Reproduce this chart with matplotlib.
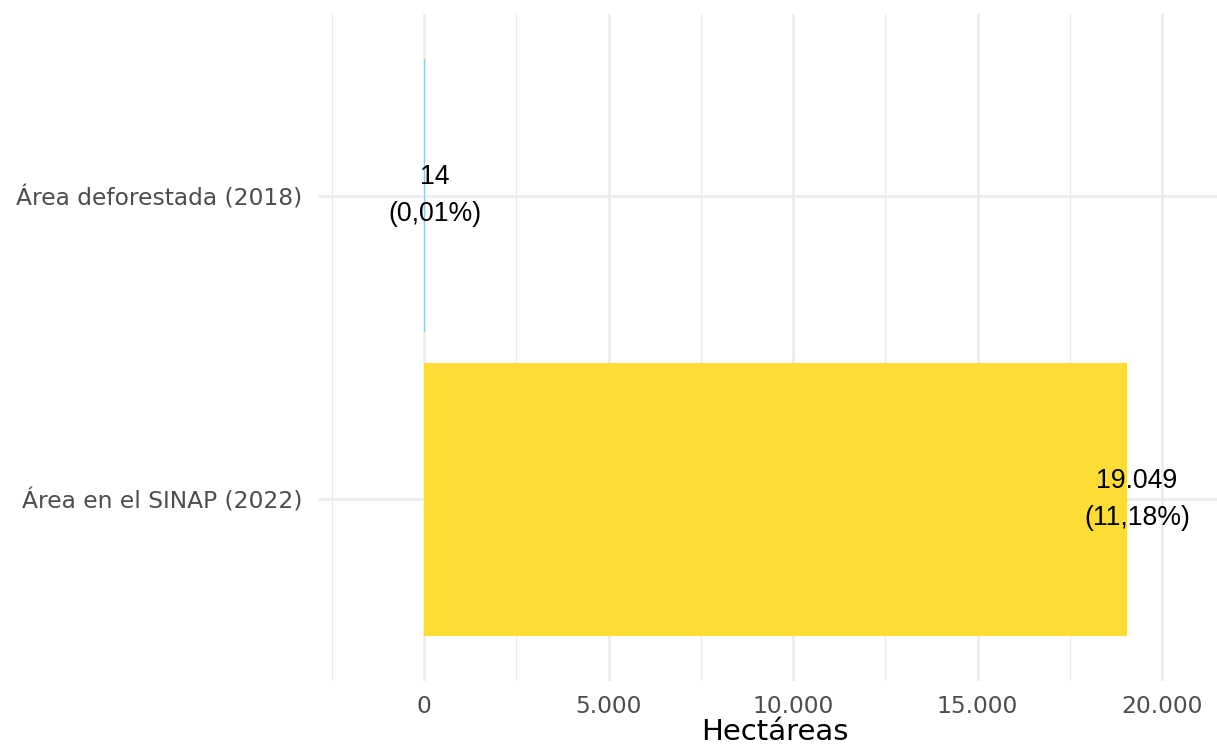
import matplotlib.pyplot as plt
from matplotlib.ticker import FixedLocator

# Datos
categorias = ['Área en el SINAP (2022)', 'Área deforestada (2018)']
hectareas = [19049, 14]
porcentajes = ['11,18%', '0,01%']
colores = ['#FDDD33', '#8FC8E8']
ticks_x = [0, 5000, 10000, 15000, 20000]
etiquetas_x = ['0', '5.000', '10.000', '15.000', '20.000']


def formato_miles(v):
    return f'{v:,}'.replace(',', '.')


fig = plt.figure(figsize=(12.17, 7.45), dpi=100)
ax = fig.add_axes([318 / 1217, 64 / 745, (1217 - 318) / 1217, (681 - 14) / 745])

pos = list(range(len(categorias)))
ax.barh(pos, hectareas, height=0.9, color=colores, zorder=2)

# Etiquetas de valor
for p, v, pct in zip(pos, hectareas, porcentajes):
    ax.text(v + 270, p, f'{formato_miles(v)}\n({pct})', ha='center', va='center',
            fontsize=19.2, family='Liberation Sans', color='black',
            linespacing=1.55, zorder=3)

ax.set_xlim(-2873, 21490)
ax.set_ylim(-0.6, 1.6)
ax.set_yticks(pos)
ax.set_yticklabels(categorias)
ax.xaxis.set_major_locator(FixedLocator(ticks_x))
ax.set_xticklabels(etiquetas_x)
ax.xaxis.set_minor_locator(FixedLocator([-2500, 2500, 7500, 12500, 17500]))

for s in ax.spines.values():
    s.set_visible(False)
ax.grid(True, which='major', color='#EBEBEB', linewidth=1.8, zorder=0)
ax.grid(True, which='minor', axis='x', color='#EBEBEB', linewidth=0.9, zorder=0)
ax.tick_params(axis='both', which='both', length=0, labelsize=16.8,
               labelcolor='#4D4D4D')
ax.tick_params(axis='y', pad=11)
ax.tick_params(axis='x', pad=10)

ax.set_xlabel('Hectáreas', fontsize=21, color='black')
ax.xaxis.set_label_coords((775 - 318) / (1217 - 318), -0.056)

fig.savefig('out.png', dpi=100)
